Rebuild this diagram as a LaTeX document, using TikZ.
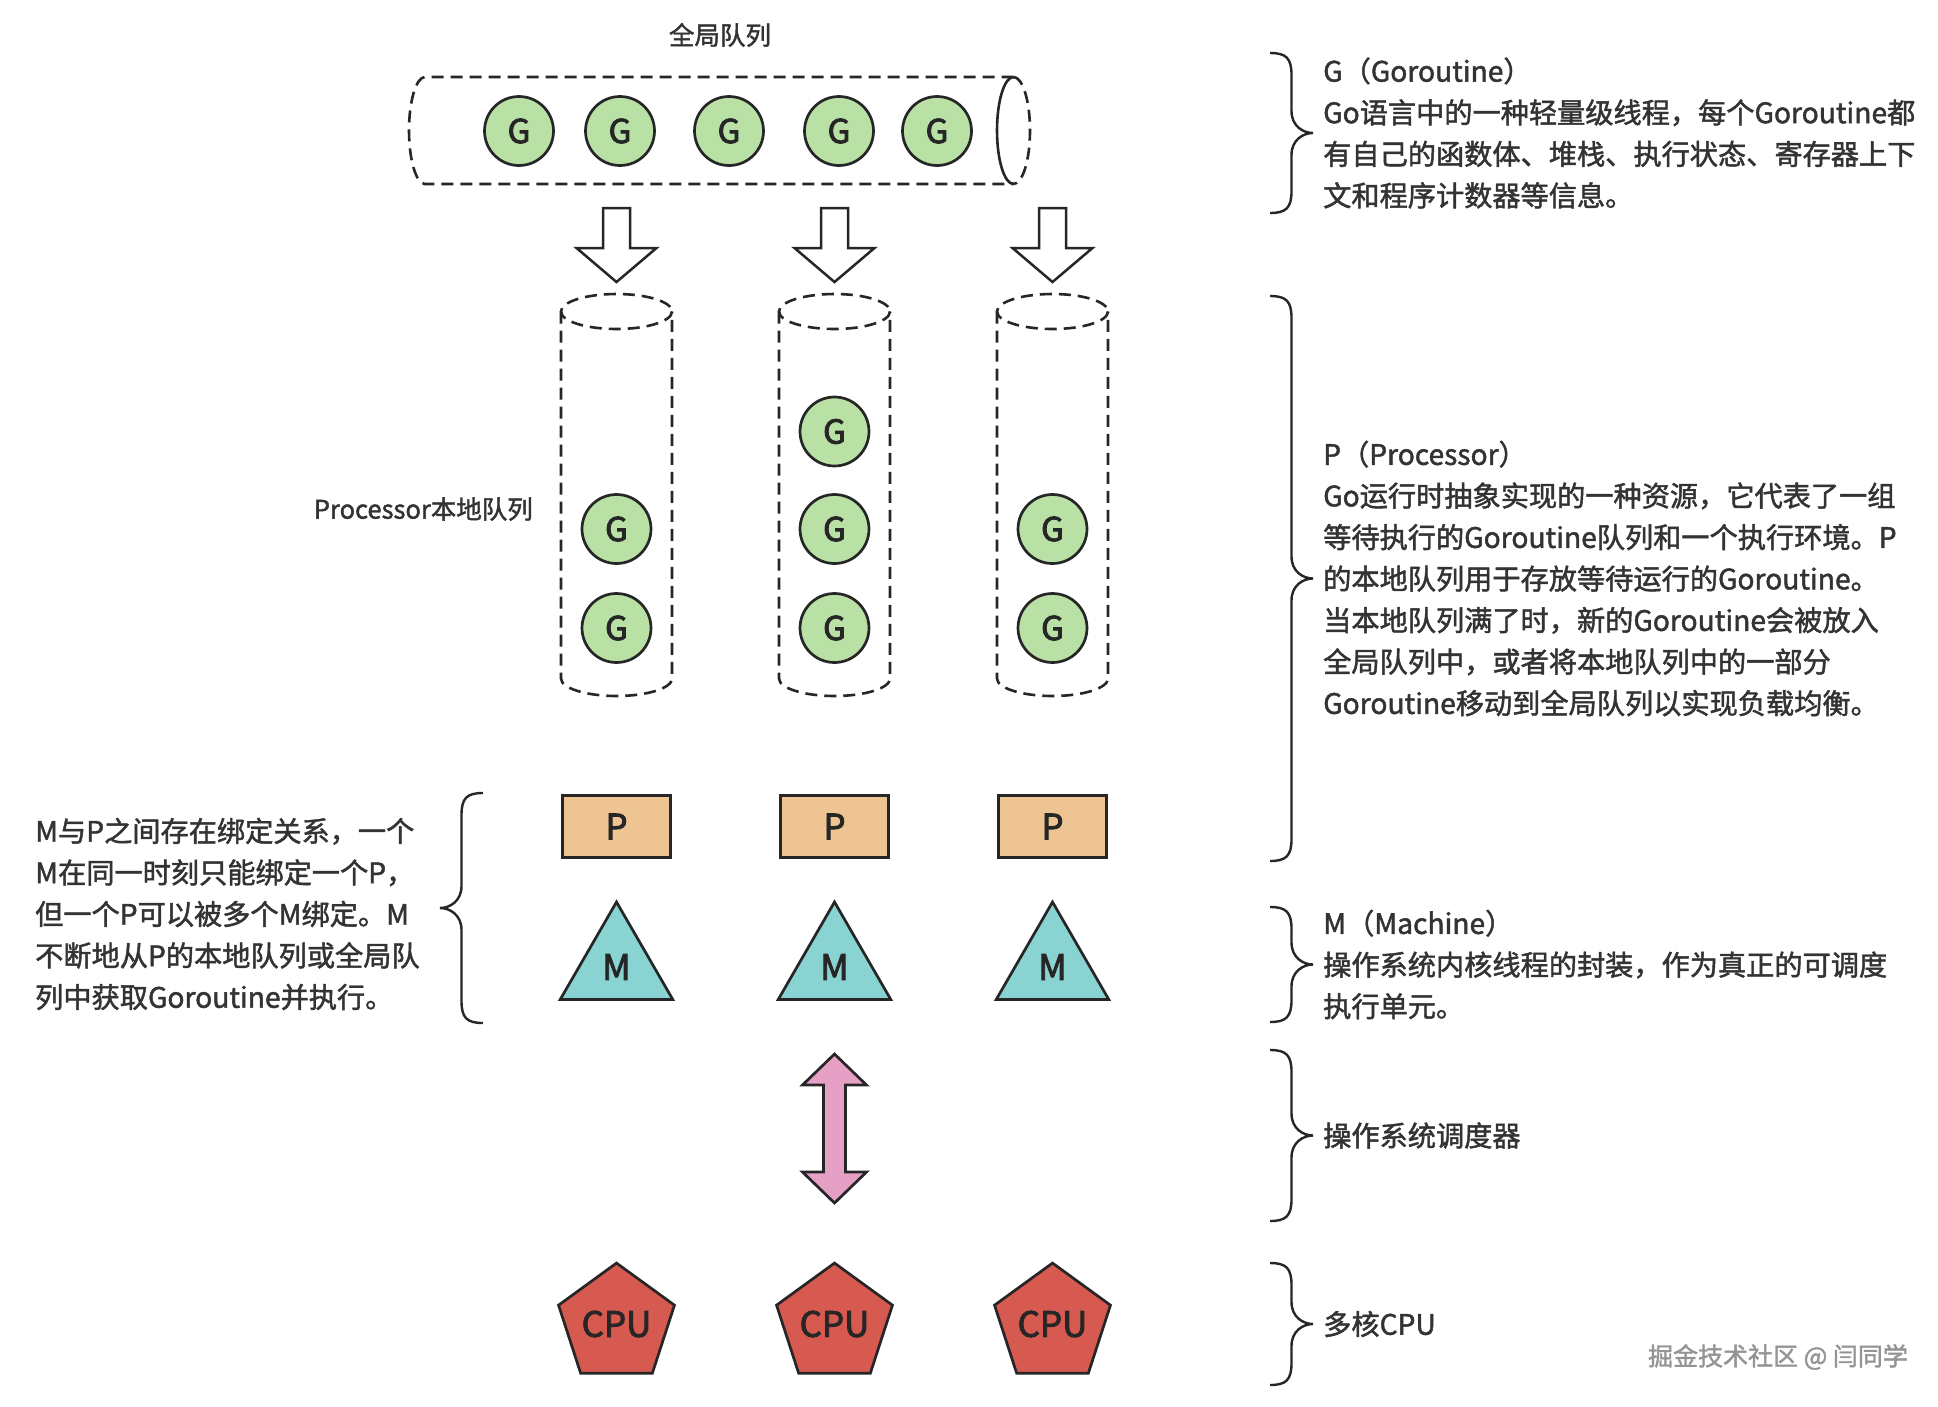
\documentclass[tikz,border=0pt]{standalone}
\usepackage{fontspec}
\setmainfont{Noto Sans CJK SC}[FakeBold=1.6]
\newfontfamily\shapefont{Noto Sans CJK SC}[FakeBold=2.6]
\usepackage{tikz}
\usetikzlibrary{shapes.geometric, positioning}

\definecolor{ink}{HTML}{262626}
\definecolor{txt}{HTML}{333333}
\definecolor{gfill}{HTML}{B9E0A5}
\definecolor{pfill}{HTML}{EEC493}
\definecolor{mfill}{HTML}{89D3D3}
\definecolor{cpufill}{HTML}{D65A4F}
\definecolor{schedfill}{HTML}{E6A0C6}

\tikzstyle{queue}=[draw=ink, line width=2.6pt, dash pattern=on 12pt off 7pt]
\tikzstyle{bracestyle}=[draw=ink, line width=2.4pt]
\tikzset{
    shapebase/.style={draw=ink, line width=2.7pt, inner sep=0pt, text=ink},
    gnode/.style={shapebase, circle, fill=gfill, minimum size=69pt, font=\shapefont\fontsize{33}{33}\selectfont},
    pnode/.style={shapebase, rectangle, fill=pfill, minimum width=108pt, minimum height=62pt, font=\shapefont\fontsize{35}{35}\selectfont},
    mnode/.style={shapebase, regular polygon, regular polygon sides=3, fill=mfill, minimum size=130pt, font=\shapefont\fontsize{35}{35}\selectfont},
    cpunode/.style={shapebase, regular polygon, regular polygon sides=5, fill=cpufill, minimum size=119pt, font=\shapefont\fontsize{35}{35}\selectfont},
    desc/.style={align=left, inner sep=0pt, text=txt, font=\fontsize{28.2}{41.5}\selectfont},
    qlabel/.style={inner sep=0pt, text=txt, font=\fontsize{25.5}{25.5}\selectfont},
    rbrace/.pic={
        \draw[bracestyle] (-43,-#1) .. controls (-27,-#1) and (-21.5,{5-#1}) .. (-21.5,{22-#1})
            -- (-21.5,-22) .. controls (-21.5,-7) and (-10,0) .. (0,0)
            .. controls (-10,0) and (-21.5,7) .. (-21.5,22)
            -- (-21.5,{#1-22}) .. controls (-21.5,{#1-5}) and (-27,#1) .. (-43,#1);
    },
    localq/.pic={
        \draw[queue] (0,0) ellipse [x radius=55.5, y radius=17.5];
        \draw[queue] (-55.5,0) -- (-55.5,367) arc [start angle=180, end angle=0, x radius=55.5, y radius=17.5] -- (55.5,0);
    },
    downarrow/.pic={
        \draw[draw=ink, fill=white, line width=2.5pt] (-13.5,0) -- (13.5,0) -- (13.5,40) -- (40,40)
            -- (0,74) -- (-40,40) -- (-13.5,40) -- cycle;
    }
}

\begin{document}
\begin{tikzpicture}[x=1pt, y=-1pt]
 \fill[white] (0,0) rectangle (1938,1406);
 \useasboundingbox (0,0) rectangle (1938,1406);

 % global queue
 \node (gtitle) [qlabel] at (720,35) {全局队列};
 \draw[queue] (1013.5,77) -- (425,77) arc [start angle=-90, end angle=-270, x radius=16, y radius=53.5] -- (1013.5,184);
 \draw[queue] (1013.5,77) arc [start angle=-90, end angle=90, x radius=16.5, y radius=53.5];
 \draw[draw=ink, line width=2.6pt] (1013.5,184) arc [start angle=90, end angle=270, x radius=16.5, y radius=53.5];
 \node (g1) [gnode] at (519,131) {G};
 \node (g2) [gnode] at (620,131) {G};
 \node (g3) [gnode] at (729,131) {G};
 \node (g4) [gnode] at (839,131) {G};
 \node (g5) [gnode] at (937,131) {G};

 \pic at (616.5,208) {downarrow};
 \pic at (834.5,208) {downarrow};
 \pic at (1052.5,208) {downarrow};

 % local queues
 \node (ltitle) [qlabel, anchor=east] at (533,509) {Processor本地队列};
 \pic at (616.5,311.5) {localq};
 \pic at (834.5,311.5) {localq};
 \pic at (1052.5,311.5) {localq};
 \node (l11) [gnode] at (616.5,529) {G};
 \node (l12) [gnode] at (616.5,628) {G};
 \node (l21) [gnode] at (834.5,431.5) {G};
 \node (l22) [gnode] at (834.5,529) {G};
 \node (l23) [gnode] at (834.5,628) {G};
 \node (l31) [gnode] at (1052.5,529) {G};
 \node (l32) [gnode] at (1052.5,628) {G};

 \node (p1) [pnode] at (616.5,826.5) {P};
 \node (p2) [pnode] at (834.5,826.5) {P};
 \node (p3) [pnode] at (1052.5,826.5) {P};

 \node (m1) [mnode] at (616.5,967) {M};
 \node (m2) [mnode] at (834.5,967) {M};
 \node (m3) [mnode] at (1052.5,967) {M};

 % os scheduler
 \draw[draw=ink, fill=schedfill, line width=2.7pt] (834.5,1054) -- (866.5,1085) -- (845.5,1085) -- (845.5,1172)
     -- (866.5,1172) -- (834.5,1203) -- (802.5,1172) -- (823.5,1172) -- (823.5,1085) -- (802.5,1085) -- cycle;

 \node (c1) [cpunode] at (616.5,1324) {CPU};
 \node (c2) [cpunode] at (834.5,1324) {CPU};
 \node (c3) [cpunode] at (1052.5,1324) {CPU};

 % braces and notes
 \coordinate (tg) at (1313,133);
 \coordinate (tp) at (1313,578.5);
 \coordinate (tm) at (1313,964.5);
 \coordinate (ts) at (1313,1135.5);
 \coordinate (tc) at (1313,1324);
 \coordinate (tl) at (440,908);
 \pic at (tg) {rbrace=80};
 \pic at (tp) {rbrace=282.5};
 \pic at (tm) {rbrace=57.5};
 \pic at (ts) {rbrace=85.5};
 \pic at (tc) {rbrace=61};
 \pic[xscale=-1] at (tl) {rbrace=115};

 \node (gdesc) [desc, right=10pt of tg] {G（Goroutine）\\Go语言中的一种轻量级线程，每个Goroutine都\\有自己的函数体、堆栈、执行状态、寄存器上下\\文和程序计数器等信息。};
 \node (pdesc) [desc, right=10pt of tp] {P（Processor）\\Go运行时抽象实现的一种资源，它代表了一组\\等待执行的Goroutine队列和一个执行环境。P\\的本地队列用于存放等待运行的Goroutine。\\当本地队列满了时，新的Goroutine会被放入\\全局队列中，或者将本地队列中的一部分\\Goroutine移动到全局队列以实现负载均衡。};
 \node (mdesc) [desc, right=10pt of tm] {M（Machine）\\操作系统内核线程的封装，作为真正的可调度\\执行单元。};
 \node (sdesc) [desc, right=10pt of ts] {操作系统调度器};
 \node (cdesc) [desc, right=10pt of tc] {多核CPU};
 \node (mpdesc) [desc, anchor=west] at (35,914) {M与P之间存在绑定关系，一个\\M在同一时刻只能绑定一个P，\\但一个P可以被多个M绑定。M\\不断地从P的本地队列或全局队\\列中获取Goroutine并执行。};

 \node (mark) [inner sep=0pt, text=black!42, font=\fontsize{25}{25}\selectfont] at (1778,1357) {掘金技术社区 @ 闫同学};
\end{tikzpicture}
\end{document}
